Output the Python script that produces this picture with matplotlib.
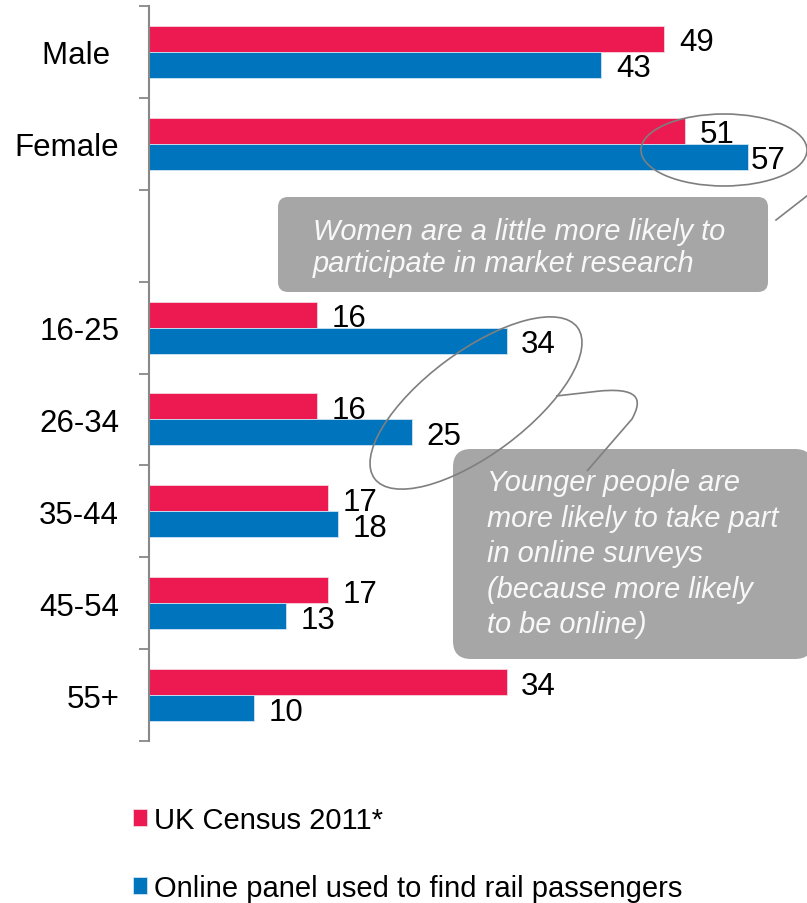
import numpy as np
import matplotlib
matplotlib.use('Agg')
from matplotlib import pyplot as plt
from matplotlib.patches import Ellipse, FancyBboxPatch, PathPatch
from matplotlib.path import Path

plt.rcParams['font.family'] = ['Liberation Sans', 'DejaVu Sans']

# Sample profile (%), gender block then age bands
gender = ['Male ', 'Female']
census_gender = [49, 51]
panel_gender = [43, 57]

age_bands = ['16-25', '26-34', '35-44', '45-54', '55+']
census_age = [16, 16, 17, 17, 34]
panel_age = [34, 25, 18, 13, 10]

series_names = ['UK Census 2011*', 'Online panel used to find rail passengers']
series_colors = ['#ec1a50', '#0075be']

note_gender = 'Women are a little more likely to\nparticipate in market research'
note_age = ('Younger people are\nmore likely to take part\nin online surveys\n'
            '(because more likely\nto be online)')

W, H = 807, 904
fig = plt.figure(figsize=(W / 100, H / 100), dpi=100)

# main axes: left spine at x=149px, top 7px, bottom 742px
ax = fig.add_axes([149 / W, (H - 742) / H, 652 / W, 735 / H])

# one empty slot between the gender and age blocks
labels = gender + [''] + age_bands
census = census_gender + [np.nan] + census_age
panel = panel_gender + [np.nan] + panel_age
pos = np.arange(len(labels))
keep = ~np.isnan(census)

bar_h = 0.283
bars_c = ax.barh(pos[keep] - bar_h / 2, np.array(census)[keep], height=bar_h,
                 color=series_colors[0], edgecolor='#f4d6de', linewidth=0.6,
                 label=series_names[0])
bars_p = ax.barh(pos[keep] + bar_h / 2, np.array(panel)[keep], height=bar_h,
                 color=series_colors[1], edgecolor='#cfe3f2', linewidth=0.6,
                 label=series_names[1])

ax.set_xlim(0, 62)
ax.set_ylim(len(labels) - 0.5, -0.5)

# value labels just right of each bar end
for bars in (bars_c, bars_p):
    for b in bars:
        val = b.get_width()
        pad = 1.5 if val == 57 else 10.5
        ax.annotate(f'{val:.0f}', (val, b.get_y() + b.get_height() / 2),
                    xytext=(pad, 0), textcoords='offset points',
                    ha='left', va='center_baseline', fontsize=22.5, color='black')

# ticks on slot boundaries, category names at slot centres
ax.set_yticks(np.arange(len(labels) + 1) - 0.5)
ax.set_yticklabels([])
ax.set_yticks(pos, labels, minor=True)
ax.tick_params(axis='y', which='major', length=7.5, width=1.3, color='#888888', direction='out')
ax.tick_params(axis='y', which='minor', length=0, pad=21.5, labelsize=22.5)
ax.set_xticks([])
for s in ['top', 'right', 'bottom']:
    ax.spines[s].set_visible(False)
ax.spines['left'].set_color('#888888')
ax.spines['left'].set_linewidth(1.5)

# overlay in pixel units for the callouts
ov = fig.add_axes([0, 0, 1, 1], zorder=5)
ov.set_xlim(0, W)
ov.set_ylim(H, 0)
ov.axis('off')

box_color = '#a6a6a6'
line_color = '#7f7f7f'

# text y is the baseline of the last line
ov.add_patch(FancyBboxPatch((278, 198), 490, 95, boxstyle='round,pad=0,rounding_size=10',
                            facecolor=box_color, edgecolor='none'))
ov.text(313, 272, note_gender, color='#f8f8f8', fontsize=20.9, fontstyle='italic',
        ha='left', va='baseline', linespacing=1.16)

ov.add_patch(FancyBboxPatch((453, 450), 360, 210, boxstyle='round,pad=0,rounding_size=18',
                            facecolor=box_color, edgecolor='none'))
ov.text(487, 633, note_age, color='#f8f8f8', fontsize=20.9, fontstyle='italic',
        ha='left', va='baseline', linespacing=1.34)

ov.add_patch(Ellipse((724, 151), 166, 72, facecolor='none', edgecolor=line_color, lw=1.2))
ov.plot([812, 776], [193, 221], color=line_color, lw=1.2)

ov.add_patch(Ellipse((476, 404), 253, 103, angle=-36.7, facecolor='none',
                     edgecolor=line_color, lw=1.2))
tail = Path([(556, 397), (600, 392), (645, 388), (640, 405), (632, 420), (587, 472)],
            [Path.MOVETO, Path.LINETO, Path.CURVE4, Path.CURVE4, Path.CURVE4, Path.LINETO])
ov.add_patch(PathPatch(tail, facecolor='none', edgecolor=line_color, lw=1.2))

fig.legend(handles=[bars_c, bars_p], loc='upper left', bbox_to_anchor=(121 / W, 1 - 795 / H),
           frameon=False, fontsize=21, handlelength=0.5, handleheight=0.5,
           handletextpad=0.22, labelspacing=1.38, borderaxespad=0)

fig.savefig('out.png', dpi=100)
